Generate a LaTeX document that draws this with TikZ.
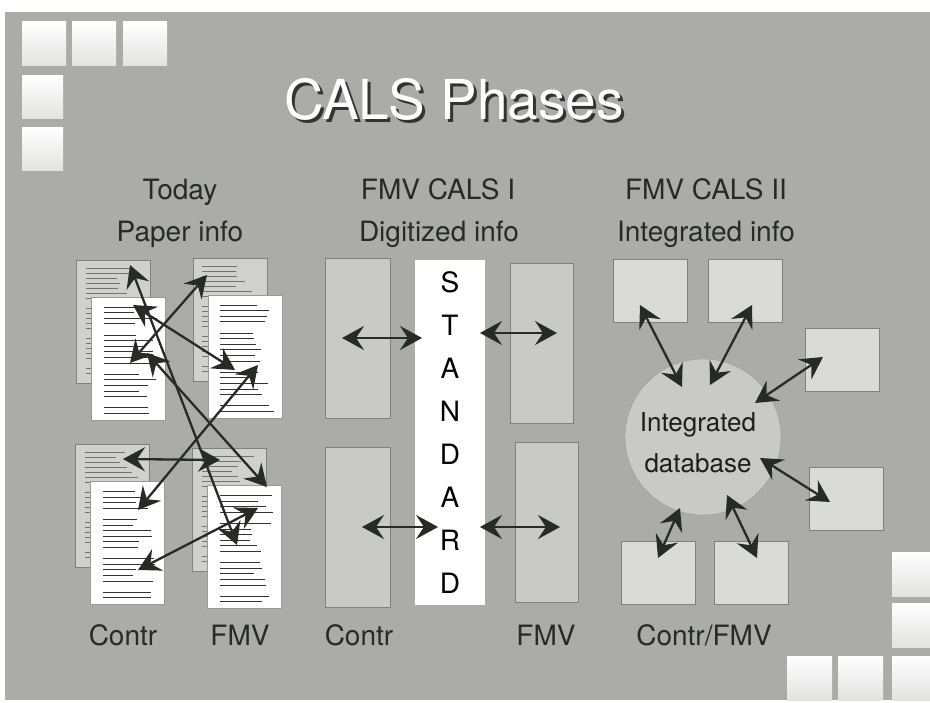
\documentclass[tikz,border=0pt]{standalone}
\usepackage{fontspec}
\setmainfont{TeX Gyre Heros}
\usetikzlibrary{arrows.meta, calc, positioning}

\definecolor{slide}{RGB}{171,172,169}
\definecolor{panelfill}{RGB}{201,202,199}
\definecolor{boxfill}{RGB}{218,219,216}
\definecolor{sheetfill}{RGB}{208,209,206}
\definecolor{rim}{RGB}{128,129,126}
\definecolor{ink}{RGB}{40,42,40}

\begin{document}
\begin{tikzpicture}[x=1pt, y=-1pt,
    link/.style={{Stealth[length=22pt, width=24pt, inset=8pt]}-{Stealth[length=22pt, width=24pt, inset=8pt]},
        line width=2.3pt, draw=ink},
    caption/.style={text=ink, anchor=base, inner sep=0pt, font=\fontsize{28}{30}\selectfont},
    titletext/.style={anchor=base, inner sep=0pt, text=white, font=\fontsize{55}{60}\selectfont},
    tile/.style={top color=white, bottom color=slide!35!white},
    sheet/.style={draw=rim, fill=sheetfill, inner sep=0pt, minimum width=74, minimum height=123,
        path picture={\foreach \k in {0,1,2,3,4,5,6,8,9,10,11,12,14,15,16,17,18,20,21}
            {\pgfmathsetmacro{\len}{30+24*rnd}
             \draw[black!55, line width=0.7pt] ($(path picture bounding box.north west)+(9,8+5*\k)$) -- ++(\len,0);}}},
    paper/.style={draw=black!40, fill=white, inner sep=0pt, minimum width=74, minimum height=123,
        path picture={\foreach \k in {0,1,2,3,5,6,7,8,9,10,12,13,14,15,16,18,19}
            {\pgfmathsetmacro{\len}{30+24*rnd}
             \draw[black!80, line width=0.9pt] ($(path picture bounding box.north west)+(12,10+5.6*\k)$) -- ++(\len,0);}}},
    panel/.style={draw=rim, fill=panelfill, inner sep=0pt, minimum width=65, minimum height=160},
    stdbar/.style={fill=white, inner sep=0pt, minimum width=70, minimum height=345, align=center,
        font=\fontsize{28}{43}\selectfont},
    box/.style={draw=rim, fill=boxfill, inner sep=0pt, minimum width=74, minimum height=63},
    dbtext/.style={align=center, text=ink!70!black, inner sep=0pt, font=\fontsize{26}{41}\selectfont}]

    \useasboundingbox (0,0) rectangle (930,703);
    \fill[white] (0,0) rectangle (930,703);
    \fill[slide] (5,12) rectangle (930,700);

    % corner tiles
    \foreach \x in {22,72,123} \fill[tile] (\x,22) rectangle ++(44,44);
    \foreach \y in {76,128} \fill[tile] (22,\y) rectangle ++(41,43);
    \foreach \y in {552,603,656} \fill[tile] (892,\y) rectangle ++(38,44);
    \foreach \x in {787,838} \fill[tile] (\x,656) rectangle ++(45,44);

    \node[titletext] (title) at (454,120)
        {\rlap{\kern3pt\raisebox{-3pt}{\color{black!80}CALS Phases}}CALS Phases};

    \node[caption] (today)      at (180,200) {Today};
    \node[caption] (paperinfo)  at (180,242) {Paper info};
    \node[caption] (calsone)    at (438,200) {FMV CALS I};
    \node[caption] (digitized)  at (439,242) {Digitized info};
    \node[caption] (calstwo)    at (706,200) {FMV CALS II};
    \node[caption] (integrated) at (706,242) {Integrated info};

    % paper documents
    \node[sheet] (backA) at (113.5,321.5) {};
    \node[paper] (frontA) [below right=37pt and 15pt of backA.north west] {};
    \node[sheet] (backB) at (230,319.5) {};
    \node[paper] (frontB) [below right=37pt and 15pt of backB.north west] {};
    \node[sheet] (backC) at (112.5,506) {};
    \node[paper] (frontC) [below right=37pt and 15pt of backC.north west] {};
    \node[sheet] (backD) at (229.5,510) {};
    \node[paper] (frontD) [below right=37pt and 15pt of backD.north west] {};

    \coordinate (p1a) at (130,265);  \coordinate (p1b) at (237,545);
    \coordinate (p2a) at (133,305);  \coordinate (p2b) at (235,370);
    \coordinate (p3a) at (207,275);  \coordinate (p3b) at (130,363);
    \coordinate (p4a) at (147,353);  \coordinate (p4b) at (267,487);
    \coordinate (p5a) at (258,365);  \coordinate (p5b) at (138,510);
    \coordinate (p6a) at (123,459);  \coordinate (p6b) at (220,460);
    \coordinate (p7a) at (258,508);  \coordinate (p7b) at (138,570);

    \path (p1a) edge[link] (p1b)
          (p2a) edge[link] (p2b)
          (p3a) edge[link] (p3b)
          (p4a) edge[link] (p4b)
          (p5a) edge[link] (p5b)
          (p6a) edge[link] (p6b)
          (p7a) edge[link] (p7b);

    % digitized
    \node[panel] (ctrTop) at (357.5,338) {};
    \node[panel] (ctrBot) at (357.5,527.5) {};
    \node[panel, minimum width=63] (fmvTop) at (541.5,343) {};
    \node[panel, minimum width=63] (fmvBot) at (546.5,522.5) {};
    \node[stdbar] (std) at (450,432.5) {S\\T\\A\\N\\D\\A\\R\\D};

    \coordinate (d1a) at (342,338);  \coordinate (d1b) at (422,338);
    \coordinate (d2a) at (480,333);  \coordinate (d2b) at (557,333);
    \coordinate (d3a) at (362,527);  \coordinate (d3b) at (438,527);
    \coordinate (d4a) at (480,527);  \coordinate (d4b) at (560,527);

    \path (d1a) edge[link] (d1b)
          (d2a) edge[link] (d2b)
          (d3a) edge[link] (d3b)
          (d4a) edge[link] (d4b);

    % integrated
    \node[box] (sqA) at (650,291) {};
    \node[box] (sqB) at (745,291) {};
    \node[box] (sqC) at (842.5,360) {};
    \node[box] (sqD) at (846.5,498.5) {};
    \node[box] (sqE) at (658.5,572.5) {};
    \node[box] (sqF) at (751.5,572.5) {};
    \node[circle, draw=rim!80, fill=panelfill, minimum size=156, inner sep=0pt] (db) at (703,437) {};
    \node[dbtext] (dblabel) at (698,443) {Integrated\\database};

    \coordinate (i1a) at (640,305);  \coordinate (i1b) at (682,387);
    \coordinate (i2a) at (752,305);  \coordinate (i2b) at (710,385);
    \coordinate (i3a) at (823,357);  \coordinate (i3b) at (755,403);
    \coordinate (i4a) at (760,458);  \coordinate (i4b) at (830,502);
    \coordinate (i5a) at (680,508);  \coordinate (i5b) at (658,558);
    \coordinate (i6a) at (727,495);  \coordinate (i6b) at (757,558);

    \path (i1a) edge[link] (i1b)
          (i2a) edge[link] (i2b)
          (i3a) edge[link] (i3b)
          (i4a) edge[link] (i4b)
          (i5a) edge[link] (i5b)
          (i6a) edge[link] (i6b);

    \node[caption] (contrA)  at (123,645) {Contr};
    \node[caption] (fmvA)    at (240,645) {FMV};
    \node[caption] (contrB)  at (359,645) {Contr};
    \node[caption] (fmvB)    at (546,645) {FMV};
    \node[caption] (contrfmv) at (704,645) {Contr/FMV};
\end{tikzpicture}
\end{document}
